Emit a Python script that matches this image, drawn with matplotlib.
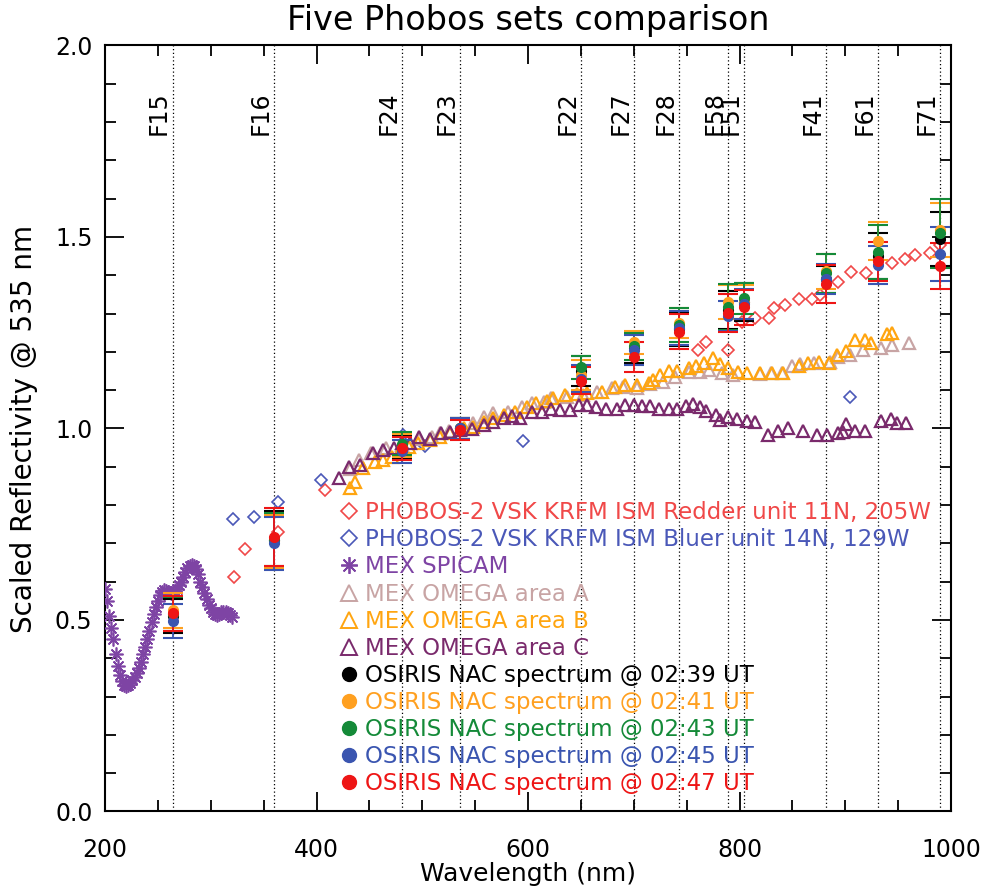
import matplotlib
matplotlib.use('Agg')
import matplotlib.pyplot as plt
from matplotlib.lines import Line2D
from matplotlib.ticker import MultipleLocator, FormatStrFormatter

# OSIRIS NAC filters (nm)
filter_names = ['F15', 'F16', 'F24', 'F23', 'F22', 'F27', 'F28', 'F58', 'F51', 'F41', 'F61', 'F71']
filter_wl = [264, 360, 481, 536, 650, 700, 743, 789, 804, 882, 931, 990]

# MEX SPICAM
spicam_wl = [200, 202, 204, 206, 208, 210, 212, 214, 216, 218, 220, 222, 224, 226, 228, 230,
             232, 234, 236, 238, 240, 242, 244, 246, 248, 250, 252, 254, 256, 258, 260, 262,
             264, 266, 268, 270, 272, 274, 276, 278, 280, 282, 284, 286, 288, 290, 292, 294,
             296, 298, 300, 302, 304, 306, 308, 310, 312, 314, 316, 318, 320]
spicam_r = [0.58, 0.55, 0.51, 0.48, 0.45, 0.41, 0.38, 0.355, 0.34, 0.33, 0.328, 0.33, 0.335,
            0.342, 0.35, 0.362, 0.375, 0.39, 0.41, 0.43, 0.45, 0.47, 0.495, 0.515, 0.535, 0.55,
            0.565, 0.572, 0.577, 0.575, 0.572, 0.57, 0.572, 0.575, 0.58, 0.59, 0.60, 0.612,
            0.625, 0.635, 0.641, 0.643, 0.64, 0.632, 0.62, 0.60, 0.585, 0.57, 0.555, 0.54, 0.53,
            0.52, 0.515, 0.513, 0.515, 0.52, 0.522, 0.52, 0.518, 0.512, 0.508]

# PHOBOS-2 VSK KRFM ISM
redder_wl = [322, 332, 364, 408, 761, 768, 789, 802, 815, 828, 833, 843, 856, 869, 876,
             893, 905, 920, 944, 956, 966, 980, 990]
redder_r = [0.613, 0.685, 0.73, 0.84, 1.205, 1.227, 1.205, 1.279, 1.288, 1.288, 1.314, 1.322,
            1.337, 1.337, 1.348, 1.383, 1.409, 1.407, 1.433, 1.442, 1.453, 1.459, 1.479]
bluer_wl = [321, 341, 364, 404, 482, 503, 595, 904]
bluer_r = [0.763, 0.77, 0.807, 0.866, 0.983, 0.954, 0.968, 1.083]

# MEX OMEGA
omega_a_wl = [432, 440, 452, 466, 481, 497, 509, 517, 525, 537, 548, 558, 567, 581, 594, 604,
              615, 622, 637, 652, 665, 679, 690, 703, 715, 728, 739, 752, 763, 771, 783, 794,
              819, 830, 840, 850, 857, 870, 886, 893, 904, 917, 934, 944, 960]
omega_a_r = [0.893, 0.918, 0.935, 0.948, 0.957, 0.972, 0.979, 0.987, 0.994, 1.002, 1.015,
             1.031, 1.04, 1.044, 1.057, 1.066, 1.07, 1.079, 1.083, 1.088, 1.096, 1.105, 1.109,
             1.105, 1.115, 1.122, 1.134, 1.148, 1.148, 1.153, 1.146, 1.14, 1.142, 1.144, 1.144,
             1.164, 1.168, 1.17, 1.174, 1.187, 1.192, 1.206, 1.209, 1.218, 1.224]
omega_b_wl = [432, 436, 444, 455, 463, 471, 479, 487, 496, 507, 517, 526, 539, 548, 558, 567,
              577, 588, 599, 608, 618, 624, 635, 646, 656, 670, 682, 692, 703, 714, 718, 725,
              733, 741, 752, 759, 766, 775, 782, 789, 799, 807, 819, 831, 841, 856, 865, 875,
              885, 892, 901, 909, 919, 924, 939, 944]
omega_b_r = [0.844, 0.861, 0.896, 0.913, 0.918, 0.925, 0.94, 0.952, 0.961, 0.97, 0.979, 0.989,
             1.0, 1.005, 1.018, 1.027, 1.035, 1.044, 1.057, 1.066, 1.073, 1.079, 1.088, 1.09,
             1.092, 1.096, 1.109, 1.114, 1.114, 1.12, 1.127, 1.14, 1.15, 1.15, 1.159, 1.163,
             1.172, 1.183, 1.168, 1.157, 1.148, 1.146, 1.144, 1.146, 1.146, 1.163, 1.17, 1.174,
             1.172, 1.192, 1.201, 1.231, 1.231, 1.222, 1.246, 1.25]
omega_c_wl = [421, 431, 441, 453, 463, 473, 481, 488, 497, 507, 518, 526, 536, 547, 558, 567,
              577, 585, 592, 604, 613, 622, 630, 640, 648, 656, 664, 674, 684, 692, 700, 708,
              715, 724, 733, 741, 749, 756, 763, 768, 778, 782, 789, 798, 807, 815, 827, 836,
              846, 860, 873, 883, 893, 898, 901, 909, 919, 934, 943, 949, 957]
omega_c_r = [0.87, 0.90, 0.905, 0.935, 0.944, 0.948, 0.961, 0.961, 0.979, 0.972, 0.987, 0.992,
             0.996, 0.998, 1.009, 1.018, 1.027, 1.033, 1.027, 1.044, 1.044, 1.05, 1.048, 1.048,
             1.061, 1.061, 1.057, 1.05, 1.05, 1.061, 1.061, 1.059, 1.059, 1.05, 1.05, 1.05,
             1.059, 1.064, 1.057, 1.046, 1.035, 1.022, 1.029, 1.024, 1.02, 1.018, 0.983, 0.994,
             1.0, 0.994, 0.983, 0.983, 0.987, 0.992, 1.012, 0.994, 0.994, 1.02, 1.024, 1.014,
             1.014]

# OSIRIS NAC spectra (value, error) at filter_wl
osiris_times = ['02:39', '02:41', '02:43', '02:45', '02:47']
osiris_vals = [
    [0.51, 0.71, 0.95, 1.0, 1.15, 1.21, 1.26, 1.31, 1.33, 1.39, 1.45, 1.495],
    [0.525, 0.705, 0.955, 1.0, 1.14, 1.225, 1.275, 1.33, 1.33, 1.41, 1.49, 1.518],
    [0.515, 0.71, 0.96, 1.0, 1.16, 1.215, 1.27, 1.318, 1.34, 1.405, 1.46, 1.51],
    [0.497, 0.70, 0.94, 1.0, 1.13, 1.205, 1.262, 1.294, 1.325, 1.39, 1.427, 1.455],
    [0.517, 0.717, 0.948, 0.996, 1.125, 1.187, 1.253, 1.302, 1.316, 1.377, 1.436, 1.424],
]
osiris_errs = [
    [0.045, 0.075, 0.03, 0.027, 0.04, 0.04, 0.045, 0.05, 0.05, 0.035, 0.06, 0.07],
    [0.045, 0.07, 0.03, 0.027, 0.04, 0.03, 0.04, 0.045, 0.045, 0.045, 0.05, 0.07],
    [0.045, 0.07, 0.03, 0.027, 0.03, 0.035, 0.045, 0.06, 0.04, 0.05, 0.07, 0.09],
    [0.045, 0.07, 0.03, 0.027, 0.035, 0.04, 0.045, 0.04, 0.04, 0.04, 0.05, 0.07],
    [0.045, 0.075, 0.03, 0.027, 0.035, 0.04, 0.045, 0.05, 0.045, 0.05, 0.05, 0.06],
]
osiris_colors = ['#000000', '#FFA020', '#148A38', '#3A55B0', '#EE1515']

c_red = '#F04848'
c_blue = '#4A58B8'
c_spicam = '#7E44A4'
c_a = '#C8A4A4'
c_b = '#FFA510'
c_c = '#7A2A6C'

fig = plt.figure(figsize=(9.84, 8.92), dpi=100)
ax = fig.add_axes([0.1067, 0.0903, 0.8598, 0.8587])

for w in filter_wl:
    ax.axvline(w, color='k', lw=0.9, ls=(0, (1, 2)), zorder=1)
for name, w in zip(filter_names, filter_wl):
    ax.text(w - 1.5, 1.765, name, rotation=90, ha='right', va='bottom', fontsize=17, zorder=2)

ax.plot(spicam_wl, spicam_r, ls='none', marker=(8, 2, 0), ms=10, mew=1.2,
        color=c_spicam, zorder=3)
ax.plot(redder_wl, redder_r, ls='none', marker='D', ms=6.5, mfc='none', mec=c_red,
        mew=1.2, zorder=3)
ax.plot(bluer_wl, bluer_r, ls='none', marker='D', ms=6.5, mfc='none', mec=c_blue,
        mew=1.2, zorder=3)
ax.plot(omega_a_wl, omega_a_r, ls='none', marker='^', ms=8, mfc='none', mec=c_a,
        mew=1.6, zorder=3)
ax.plot(omega_b_wl, omega_b_r, ls='none', marker='^', ms=8, mfc='none', mec=c_b,
        mew=1.6, zorder=3)
ax.plot(omega_c_wl, omega_c_r, ls='none', marker='^', ms=8, mfc='none', mec=c_c,
        mew=1.6, zorder=3)

for vals, errs, col in zip(osiris_vals, osiris_errs, osiris_colors):
    ax.errorbar(filter_wl, vals, yerr=errs, fmt='o', ms=7, color=col, ecolor=col,
                elinewidth=1.3, capsize=7, capthick=1.5, zorder=4)

handles = [
    Line2D([], [], ls='none', marker='D', ms=8.5, mfc='none', mec=c_red, mew=1.2),
    Line2D([], [], ls='none', marker='D', ms=8.5, mfc='none', mec=c_blue, mew=1.2),
    Line2D([], [], ls='none', marker=(8, 2, 0), ms=12, mec=c_spicam, mew=1.3),
    Line2D([], [], ls='none', marker='^', ms=11, mfc='none', mec=c_a, mew=1.4),
    Line2D([], [], ls='none', marker='^', ms=11, mfc='none', mec=c_b, mew=1.4),
    Line2D([], [], ls='none', marker='^', ms=11, mfc='none', mec=c_c, mew=1.4),
]
labels = ['PHOBOS-2 VSK KRFM ISM Redder unit 11N, 205W',
          'PHOBOS-2 VSK KRFM ISM Bluer unit 14N, 129W',
          'MEX SPICAM', 'MEX OMEGA area A', 'MEX OMEGA area B', 'MEX OMEGA area C']
for t, col in zip(osiris_times, osiris_colors):
    handles.append(Line2D([], [], ls='none', marker='o', ms=10, mfc=col, mec=col))
    labels.append('OSIRIS NAC spectrum @ ' + t + ' UT')

ax.legend(handles, labels, loc='upper left', bbox_to_anchor=(0.275, 0.405), frameon=False,
          fontsize=16.5, labelcolor='markeredgecolor', handlelength=1.0,
          handletextpad=0.2, labelspacing=0.18, borderpad=0, borderaxespad=0)

ax.set_xlim(200, 1000)
ax.set_ylim(0, 2.0)
ax.xaxis.set_major_locator(MultipleLocator(200))
ax.xaxis.set_minor_locator(MultipleLocator(50))
ax.yaxis.set_major_locator(MultipleLocator(0.5))
ax.yaxis.set_minor_locator(MultipleLocator(0.1))
ax.yaxis.set_major_formatter(FormatStrFormatter('%.1f'))
ax.tick_params(which='both', direction='in', top=True, right=True, labelsize=17, width=1.3)
ax.tick_params(which='major', length=14)
ax.tick_params(which='minor', length=8)
ax.tick_params(axis='x', which='major', pad=19)
ax.tick_params(axis='y', which='major', pad=9)
for sp in ax.spines.values():
    sp.set_linewidth(1.5)

ax.set_xlabel('Wavelength (nm)', fontsize=18, labelpad=0)
ax.set_ylabel('Scaled Reflectivity @ 535 nm', fontsize=20, labelpad=12)
ax.set_title('Five Phobos sets comparison', fontsize=24, pad=11)

fig.savefig('out.png', dpi=100)
